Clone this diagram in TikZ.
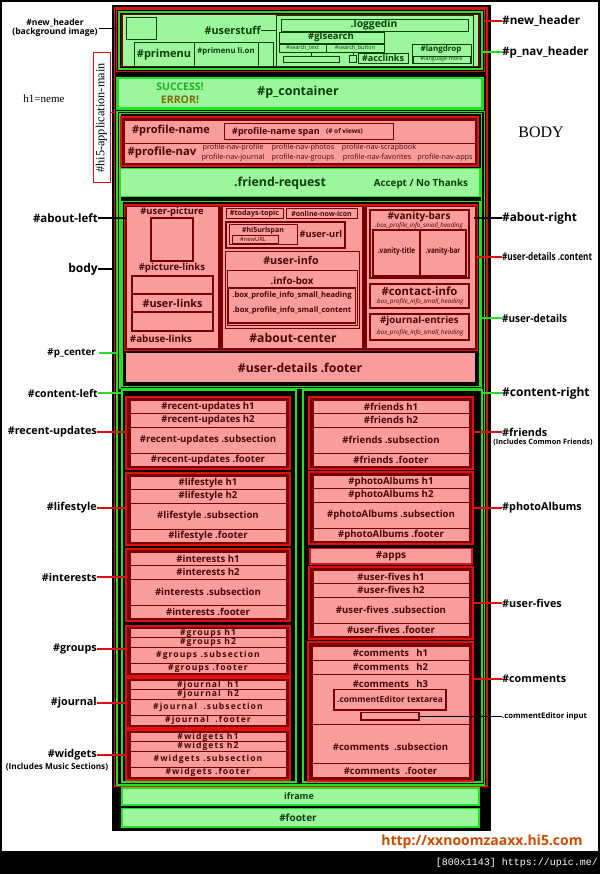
\documentclass[tikz,border=0pt]{standalone}
\usepackage{fontspec}
\newfontfamily\sanf{Open Sans}
\newfontfamily\serf{Liberation Serif}
\newfontfamily\monof{Liberation Mono}
\usepackage{xcolor}
\definecolor{lgreen}{HTML}{9CF79C}
\definecolor{bgreen}{HTML}{22E022}
\definecolor{bred}{HTML}{E01010}
\definecolor{dred}{HTML}{780000}
\definecolor{rowpink}{HTML}{F99C9C}
\definecolor{txtred}{HTML}{4A0505}
\definecolor{txtgreen}{HTML}{0A3F0A}
\definecolor{okgreen}{HTML}{22B022}
\definecolor{errolive}{HTML}{7A6A10}
\definecolor{urlorange}{HTML}{D24A00}
\usetikzlibrary{positioning}
\tikzset{
  gbox/.style   ={draw=bgreen,fill=lgreen,line width=1.6pt},
  gring/.style  ={draw=bgreen,line width=1.2pt},
  redring/.style={draw=bred,line width=1.3pt},
  secbox/.style ={draw=bred,fill=dred,line width=1.3pt},
  rowbox/.style ={draw=dred,fill=rowpink,line width=0.9pt},
  pbox/.style   ={draw=dred,line width=1pt},
  hdr/.style    ={draw=txtgreen,line width=0.9pt},
  rtxt/.style   ={text=txtred,inner sep=0pt,font=\sanf\bfseries\fontsize{#1}{#1}\selectfont},
  rsmall/.style ={text=txtred,inner sep=0pt,font=\sanf\fontsize{#1}{#1}\selectfont},
  rspaced/.style={text=txtred,inner sep=0pt,
                  font=\sanf\bfseries\fontsize{#1}{#1}\selectfont\addfontfeature{LetterSpace=12}},
  gtxt/.style   ={text=txtgreen,inner sep=0pt,font=\sanf\bfseries\fontsize{#1}{#1}\selectfont},
  gsmall/.style ={text=txtgreen,inner sep=0pt,font=\sanf\fontsize{#1}{#1}\selectfont},
  lbl/.style    ={inner sep=0pt,font=\sanf\bfseries\fontsize{#1}{#1}\selectfont},
  lead/.style   ={line width=1.3pt},
}

\begin{document}
\begin{tikzpicture}[x=1pt,y=-1pt]
\useasboundingbox (0,0) rectangle (600,874);
% page, frame, bottom bar
\fill[white] (0,0) rectangle (600,874);
\fill[black] (0,852) rectangle (600,874);
\draw[black,line width=2pt] (1,1) rectangle (599,852);
% main column
\fill[black] (112,5) rectangle (491,831);
\draw[redring] (114.5,8) rectangle (487,786);
% new_header / p_nav_header
\draw[draw=bred,line width=1.6pt] (116.5,9.5) rectangle (484.5,71.5);
\draw[gring,line width=1.6pt] (119,12) rectangle (482,69);
\draw[draw=dred,fill=lgreen,line width=1.2pt] (122,14.5) rectangle (479,66.5);
\draw[hdr] (126,17) rectangle (156,39);
\node[gtxt=10.8,anchor=east] (userstuff) at (261,30) {\#userstuff};
\draw[hdr] (134,42) rectangle (273,66);
\draw[hdr] (194,42) -- (194,66);
\draw[hdr] (258,42) -- (258,66);
\node[gtxt=11] (primenu) at (164,55) {\#primenu};
\node[gtxt=7.8] (primenuon) at (226,51) {\#primenu li.on};
\draw[hdr] (276,15) rectangle (473,66);
\coordinate (usrbox) at (276,30);
\draw[hdr] (userstuff) -- (usrbox);
\draw[hdr] (281,19) rectangle (468,31);
\node[gtxt=10.3] (loggedin) at (374,25) {.loggedin};
\draw[hdr] (279,32) rectangle (384,43);
\node[gtxt=9.5] (glsearch) at (331,37.5) {\#glsearch};
\draw[hdr] (279,44) rectangle (326,52);
\draw[hdr] (326,44) rectangle (384,52);
\node[gsmall=5.5] (stext) at (302.5,48) {\#search\_text};
\node[gsmall=5.5] (sbutton) at (355,48) {\#search\_button};
\draw[hdr] (283,56) rectangle (339,62);
\draw[hdr] (311,52) -- (311,56);
\draw[hdr] (349,55) rectangle (356,62);
\draw[hdr] (353,52) -- (353,55);
\draw[hdr] (358,53) rectangle (408,63);
\node[gtxt=9] (acclinks) at (383,58) {\#acclinks};
\draw[hdr] (412,44) rectangle (471,63);
\node[gtxt=8] (langdrop) at (441,49.5) {\#langdrop};
\draw[hdr] (413,56) rectangle (470,63);
\node[gsmall=5.4] (langmore) at (441.5,59.5) {\#language-more};
% p_container
\draw[gbox,line width=2.2pt] (117.5,78) rectangle (482.5,108.5);
\node[text=okgreen,lbl=10.5] (success) at (180,87) {SUCCESS!};
\node[text=errolive,lbl=10.5] (error) at (180,100) {ERROR!};
\node[gtxt=12.5] (pcont) at (298,92.5) {\#p\_container};
% p_center, user-details
\draw[gring] (117,111.5) rectangle (484.5,785);
\draw[gring] (120,113.5) rectangle (481.5,388.5);
% profile name / nav
\draw[secbox,line width=1.5pt] (121,117) rectangle (478,166);
\draw[rowbox] (124,120.5) rectangle (475,143);
\draw[rowbox] (124,143) rectangle (475,163);
\node[rtxt=11] (pname) at (171,131) {\#profile-name};
\draw[pbox] (224,124) rectangle (393,140);
\node[rtxt=9,anchor=west] (pspan) at (232,132) {\#profile-name span};
\node[rtxt=6.5,right=6pt of pspan] (views) {(\# of views)};
\node[rtxt=11.3] (pnav) at (162,153) {\#profile-nav};
\node[rsmall=7.3] (nprofile) at (233,148) {profile-nav-profile};
\node[rsmall=7.3] (nphotos) at (303,148) {profile-nav-photos};
\node[rsmall=7.3] (nscrap) at (379,148) {profile-nav-scrapbook};
\node[rsmall=7.3] (njournal) at (233,157.5) {profile-nav-journal};
\node[rsmall=7.3] (ngroups) at (303,157.5) {profile-nav-groups};
\node[rsmall=7.3] (nfav) at (377,157.5) {profile-nav-favorites};
\node[rsmall=7.3] (napps) at (445,157.5) {profile-nav-apps};
% friend request
\draw[gbox] (120.5,168.5) rectangle (480,196.5);
\node[gtxt=12.3] (freq) at (280,183) {.friend-request};
\node[gtxt=9.8] (accept) at (421,184) {Accept / No Thanks};
% user-details .content
\draw[gring] (122,201.5) rectangle (480,386.5);
\draw[secbox] (124.5,205) rectangle (477.5,350.5);
\draw[rowbox,line width=1pt] (126.5,207) rectangle (218,348);
\draw[rowbox,line width=1pt] (222,207) rectangle (362,348);
\draw[rowbox,line width=1pt] (366,207) rectangle (475,348);
% about-left
\node[rtxt=9.4] (upic) at (172,212.5) {\#user-picture};
\draw[pbox,line width=1.6pt] (151,218) rectangle (193,261);
\node[rtxt=9.6] (plinks) at (172,268) {\#picture-links};
\draw[pbox,line width=1.6pt] (132,276) rectangle (213,294);
\draw[pbox,line width=1.6pt] (132,294) rectangle (213,312);
\draw[pbox,line width=1.6pt] (132,312) rectangle (213,331);
\node[rtxt=10.8] (ulinks) at (172.5,303) {\#user-links};
\node[rtxt=9.8] (abuse) at (161,338.5) {\#abuse-links};
% about-center
\draw[pbox] (226,209) rectangle (283,219);
\node[rtxt=7.2] (ttopic) at (254.5,214) {\#todays-topic};
\draw[pbox] (286,209) rectangle (357,219);
\node[rtxt=7] (online) at (321.5,214) {\#online-now-icon};
\draw[pbox,line width=1.4pt] (226,222) rectangle (345,248);
\draw[pbox] (229,225) rectangle (297,245);
\node[rtxt=7] (urlspan) at (263,230.5) {\#hi5urlspan};
\draw[pbox,line width=0.6pt] (232,235) rectangle (278,243);
\node[rsmall=5.8] (newurl) at (253,239) {\#newURL};
\node[rtxt=9.3] (uurl) at (321,234) {\#user-url};
\draw[pbox] (225,252) rectangle (359,328);
\node[rtxt=10.8] (uinfo) at (291,260) {\#user-info};
\draw[pbox] (227,271) rectangle (357,325);
\node[rtxt=9.8] (infobox) at (292,281) {.info-box};
\draw[pbox,line width=1.4pt] (228.5,288) rectangle (355.5,323);
\node[rtxt=7.6] (bhead) at (292,296) {.box\_profile\_info\_small\_heading};
\node[rtxt=7.6] (bcont) at (292,311) {.box\_profile\_info\_small\_content};
\node[rtxt=12.2] (acenter) at (293,337.5) {\#about-center};
% about-right
\draw[pbox,line width=1.5pt] (370,210) rectangle (469,278);
\node[rtxt=10] (vbars) at (419,217) {\#vanity-bars};
\node[rsmall=6.3] (vhead) at (419,226) {\itshape .box\_profile\_info\_small\_heading};
\draw[pbox,line width=1.4pt] (373,230) rectangle (466,276);
\draw[pbox,line width=1.4pt] (420,230) -- (420,276);
\node[rtxt=8] (vtitle) at (396.5,251) {\scalebox{0.8}[1]{.vanity-title}};
\node[rtxt=8] (vbar) at (443,251) {\scalebox{0.8}[1]{.vanity-bar}};
\draw[pbox,line width=1.5pt] (370,284) rectangle (469,308);
\node[rtxt=11.3] (cinfo) at (419.5,291) {\#contact-info};
\node[rsmall=6.3] (chead) at (419.5,301.5) {\itshape .box\_profile\_info\_small\_heading};
\draw[pbox,line width=1.5pt] (370,314) rectangle (469,340);
\node[rtxt=9.7] (jentries) at (419.5,321) {\#journal-entries};
\node[rsmall=6.3] (jhead) at (419.5,332.5) {\itshape .box\_profile\_info\_small\_heading};
% user-details .footer
\draw[rowbox,draw=black,line width=1.5pt] (125,352.5) rectangle (476,383);
\node[rtxt=12.2] (udfoot) at (300,367.5) {\#user-details .footer};
% content-left / content-right
\draw[gring] (122,390) rectangle (296,782);
\draw[gring] (303,390) rectangle (482,782);
\foreach \nm/\x/\y in {recent-updates/126/397,lifestyle/126/473,interests/126/549,
                       friends/309/397,photoAlbums/309/472,user-fives/309/567}{
  \draw[secbox] (\x,\y) rectangle ++(164,72);
  \draw[rowbox] (\x+4,\y+3) rectangle (\x+160,\y+16.5);
  \draw[rowbox] (\x+4,\y+16.5) rectangle (\x+160,\y+30);
  \draw[rowbox] (\x+4,\y+30) rectangle (\x+160,\y+56);
  \draw[rowbox] (\x+4,\y+56) rectangle (\x+160,\y+69.5);
  \node[rtxt=9.6] (\nm-h1) at (\x+82,\y+9.8) {\#\nm{} h1};
  \node[rtxt=9.6] (\nm-h2) at (\x+82,\y+23.3) {\#\nm{} h2};
  \node[rtxt=9.6] (\nm-sub) at (\x+82,\y+43) {\#\nm{} .subsection};
  \node[rtxt=9.6] (\nm-foot) at (\x+82,\y+62.8) {\#\nm{} .footer};
}
\foreach \nm/\y/\gap in {groups/626/~,journal/678/~~,widgets/730/~}{
  \draw[secbox] (126,\y) rectangle ++(164,50);
  \draw[rowbox] (130,\y+2.5) rectangle (286,\y+11.5);
  \draw[rowbox] (130,\y+11.5) rectangle (286,\y+21);
  \draw[rowbox] (130,\y+21) rectangle (286,\y+37.5);
  \draw[rowbox] (130,\y+37.5) rectangle (286,\y+47);
  \node[rspaced=8.6] (\nm-h1) at (208,\y+7) {\#\nm\gap h1};
  \node[rspaced=8.6] (\nm-h2) at (208,\y+16.3) {\#\nm\gap h2};
  \node[rspaced=8.6] (\nm-sub) at (208,\y+29.3) {\#\nm\gap .subsection};
  \node[rspaced=8.6] (\nm-foot) at (208,\y+42.3) {\#\nm\gap .footer};
}
% apps
\draw[rowbox,draw=bred,line width=1.5pt] (310,548.5) rectangle (472,564);
\node[rtxt=10] (apps) at (391,556.3) {\#apps};
% comments
\draw[secbox] (308,642) rectangle (473,781);
\draw[rowbox] (312,646) rectangle (469,660);
\draw[rowbox] (312,660) rectangle (469,674);
\draw[rowbox] (312,674) rectangle (469,724);
\draw[rowbox] (312,724) rectangle (469,763);
\draw[rowbox] (312,763) rectangle (469,777);
\node[rtxt=9.5] (com-h1) at (390.5,653) {\#comments\ \ \ h1};
\node[rtxt=9.5] (com-h2) at (390.5,667) {\#comments\ \ \ h2};
\node[rtxt=9.5] (com-h3) at (390.5,684) {\#comments\ \ \ h3};
\draw[pbox,line width=1.3pt] (334,689.5) rectangle (446,710);
\node[rtxt=8.4] (textarea) at (390,699.5) {.commentEditor textarea};
\draw[pbox,line width=1.3pt] (361,712.5) rectangle (419,720);
\coordinate (cinput) at (419,716);
\node[rtxt=9.5] (com-sub) at (390.5,747) {\#comments\ \ .subsection};
\node[rtxt=9.5] (com-foot) at (390.5,770.5) {\#comments\ \ .footer};
% iframe, footer
\draw[gbox] (122,788) rectangle (479,805);
\node[gtxt=9] (iframe) at (299,796.5) {iframe};
\draw[gbox] (122,808.5) rectangle (479,827);
\node[gtxt=10] (footer) at (298,817.5) {\#footer};
% left labels
\node[lbl=8.6,align=center] (nhdrL) at (55,28) {\#new\_header\\(background image)};
\coordinate (nhdrLend) at (115,28);
\draw[lead,line width=0.8pt] (nhdrL.east) ++(1,0) -- (nhdrLend);
\node[font=\serf\fontsize{11}{11}\selectfont,inner sep=0pt] (hone) at (44,99) {h1=neme};
\node[draw=bred,line width=1pt,rotate=90,inner sep=2pt,minimum height=17pt,minimum width=130pt,
      font=\serf\fontsize{12.3}{12.3}\selectfont] (hi5) at (101.5,118) {\#hi5-application-main};
\coordinate (appmain) at (115,113);
\draw[bred,line width=1pt] (hi5.south |- appmain) -- (appmain);
\node[lbl=11.5,anchor=east] (aboutL) at (98,218) {\#about-left};
\coordinate (aboutLend) at (127,218);
\draw[lead] (aboutL) -- (aboutLend);
\node[lbl=12,anchor=east] (bodyL) at (98,269) {body};
\coordinate (bodyend) at (113,269);
\draw[lead] (bodyL) -- (bodyend);
\node[lbl=9.8,anchor=east] (pcenter) at (96,353) {\#p\_center};
\coordinate (pcenterend) at (117,353);
\draw[lead,bgreen] (pcenter.east) ++(3,0) -- (pcenterend);
\node[lbl=10.6,anchor=east] (contL) at (98,393) {\#content-left};
\coordinate (contLend) at (122,393);
\draw[lead,bgreen] (contL) -- (contLend);
\foreach \nm/\y in {recent-updates/432,lifestyle/508,interests/577,groups/649,journal/703,widgets/755}{
  \node[lbl=10.8,anchor=east] (\nm-lbl) at (97,\y) {\#\nm};
  \coordinate (\nm-end) at (126,\y);
  \draw[lead,bred] (\nm-lbl) -- (\nm-end);
}
\node[lbl=8.2] (music) at (57,767) {(Includes Music Sections)};
% right labels
\node[lbl=11.7,anchor=west] (nhdrR) at (502,21) {\#new\_header};
\coordinate (nhdrRend) at (485,21);
\draw[lead,bred] (nhdrRend) -- (nhdrR);
\node[lbl=11.6,anchor=west] (pnavR) at (502,52) {\#p\_nav\_header};
\coordinate (pnavRend) at (482,52);
\draw[lead,bgreen] (pnavRend) -- (pnavR);
\node[font=\serf\fontsize{16}{16}\selectfont,inner sep=0pt] (bodyR) at (541,132) {BODY};
\node[lbl=11.8,anchor=west] (aboutR) at (502,218) {\#about-right};
\coordinate (aboutRend) at (474,218);
\draw[lead] (aboutRend) -- (aboutR);
\node[lbl=10.5,anchor=west] (udcont) at (502,257) {\scalebox{0.78}[1]{\#user-details .content}};
\coordinate (udcontend) at (478,257);
\draw[lead,bred] (udcontend) -- (udcont);
\node[lbl=10.8,anchor=west] (udR) at (502,318) {\scalebox{0.92}[1]{\#user-details}};
\coordinate (udRend) at (481,318);
\draw[lead,bgreen] (udRend) -- (udR);
\node[lbl=12,anchor=west] (contR) at (502,393) {\#content-right};
\coordinate (contRend) at (482,393);
\draw[lead,bgreen] (contRend) -- (contR);
\foreach \nm/\y in {friends/432,photoAlbums/508,user-fives/603,comments/679}{
  \node[lbl=10.8,anchor=west] (\nm-lbl) at (502,\y) {\#\nm};
  \coordinate (\nm-end) at (473,\y);
  \draw[lead,bred] (\nm-end) -- (\nm-lbl);
}
\node[lbl=7.3] (common) at (543,442.5) {(Includes Common Friends)};
\node[lbl=7.7,anchor=west] (inputR) at (502,716) {.commentEditor input};
\draw[line width=0.9pt] (cinput) -- (inputR);
% credits
\node[text=urlorange,lbl=14] (site) at (482,842) {http://xxnoomzaaxx.hi5.com};
\node[text=white,font=\monof\fontsize{10}{10}\selectfont,inner sep=0pt,anchor=east] (upic) at (598,863) {[800x1143] https://upic.me/};
\end{tikzpicture}
\end{document}
